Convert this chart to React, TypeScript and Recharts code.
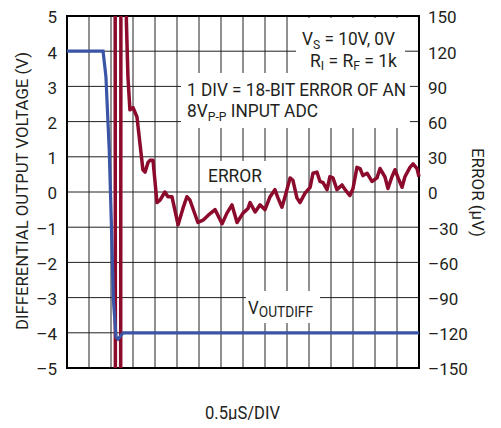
import React from 'react';
import { LineChart, Line, XAxis, YAxis, CartesianGrid, ReferenceArea } from 'recharts';

// ---- data ----
const timeTicks = [0, 1, 2, 3, 4, 5, 6, 7, 8, 9, 10, 11, 12, 13, 14, 15, 16];
const voltTicks = [-5, -4, -3, -2, -1, 0, 1, 2, 3, 4, 5];
const errorTicks = [-150, -120, -90, -60, -30, 0, 30, 60, 90, 120, 150];

// VOUTDIFF (V) vs time (divisions)
const voutTime = [0, 1.64, 1.77, 1.92, 2.03, 2.11, 2.23, 2.32, 2.55, 16];
const voutVolts = [4, 4, 3.27, 1.19, -1.17, -3.07, -4.12, -4.18, -4.0, -4.0];

// ERROR (µV) vs time (divisions); off-scale values are clipped
const errTime = [
  2.0, 2.18, 2.21, 2.43, 2.46, 2.65, 2.7, 2.77, 2.86, 3.0, 3.09, 3.18, 3.45, 3.55, 3.68, 3.77, 3.91,
  4.09, 4.23, 4.45, 4.59, 4.77, 5.05, 5.27, 5.45, 5.59, 5.95, 6.18, 6.41, 6.73, 7.05, 7.27, 7.5,
  7.73, 8.0, 8.23, 8.32, 8.55, 8.77, 9.0, 9.23, 9.45, 9.59, 9.77, 9.91, 10.14, 10.27, 10.45, 10.59,
  10.82, 11.05, 11.18, 11.36, 11.5, 11.64, 11.82, 11.95, 12.09, 12.27, 12.5, 12.64, 12.86, 13.0,
  13.18, 13.32, 13.45, 13.64, 13.86, 14.09, 14.23, 14.45, 14.59, 14.77, 14.91, 15.05, 15.23, 15.36,
  15.59, 15.73, 15.91, 16.0,
];
const errMicroV = [
  500, 500, -500, -500, 500, 500, 145, 98, 70, 72, 68, 64, 19, 17, 25, 27, 27,
  -9, -7, 0, -4, -4, -28, -14, -4, -7, -26, -24, -20, -15, -27, -18, -11,
  -26, -18, -14, -9, -17, -11, -15, -4, 2, -5, -13, -4, 12, 10, -5, -9,
  -1, 4, 16, 17, 9, 8, 2, 13, 12, 2, 6, 2, -3, 3,
  21, 20, 14, 16, 9, 12, 20, 13, 3, 13, 19, 12, 4, 13,
  21, 24, 20, 13,
];

const voutData = voutTime.map((t, i) => ({ t, v: voutVolts[i] }));
const errData = errTime.map((t, i) => ({ t, e: errMicroV[i] }));

const fmt = (n: number) => (n < 0 ? '\u2013' + Math.abs(n) : String(n));

const TXT = '#231f20';
const FONT = "'Liberation Sans Narrow', Roboto, sans-serif";
const TICKFONT = 'Roboto, sans-serif';

const LeftTick = (props: any) => {
  const { x, y, payload } = props;
  return (
    <text x={x} y={y} dy="0.44em" textAnchor="end" fontSize={17} fontFamily={TICKFONT} fill={TXT}>
      {fmt(payload.value)}
    </text>
  );
};
const RightTick = (props: any) => {
  const { x, y, payload } = props;
  return (
    <text x={x} y={y} dy="0.44em" textAnchor="start" fontSize={17} fontFamily={TICKFONT} fill={TXT}>
      {fmt(payload.value)}
    </text>
  );
};

// page coords -> svg coords (body margin 8)
const P = (v: number) => v - 8;

const T = ({ x, y, s = 18.5, len, children, anchor = 'start', rot, adj = 'spacingAndGlyphs' }: any) => (
  <text
    x={P(x)}
    y={P(y)}
    fontSize={s}
    fontFamily={FONT}
    fill={TXT}
    textAnchor={anchor}
    textLength={len}
    lengthAdjust={len ? adj : undefined}
    transform={rot ? `rotate(${rot} ${P(x)} ${P(y)})` : undefined}
  >
    {children}
  </text>
);

const Sub = ({ children, s = 13, d = 3.5 }: any) => (
  <tspan fontSize={s} dy={d}>
    {children}
  </tspan>
);
const Up = ({ children, d = 3.5 }: any) => <tspan dy={-d}>{children}</tspan>;

const Box = ({ x1, y1, x2, y2 }: any) => (
  <rect x={P(x1)} y={P(y1)} width={x2 - x1} height={y2 - y1} fill="#fff" />
);

export default function App() {
  const W = 485;
  const H = 412;
  return (
    <div style={{ position: 'relative', width: W, height: H }}>
      <LineChart width={W} height={H} margin={{ top: 8, right: 0, bottom: 52, left: 0 }}>
        <CartesianGrid yAxisId="v" stroke="#222" strokeWidth={1} />
        <XAxis type="number" dataKey="t" domain={[0, 16]} ticks={timeTicks} hide />
        <YAxis
          yAxisId="v"
          domain={[-5, 5]}
          ticks={voltTicks}
          width={59}
          axisLine={false}
          tickLine={false}
          tickSize={0}
          tickMargin={10}
          tick={<LeftTick />}
          interval={0}
        />
        <YAxis
          yAxisId="e"
          orientation="right"
          domain={[-150, 150]}
          ticks={errorTicks}
          allowDataOverflow
          width={74}
          axisLine={false}
          tickLine={false}
          tickSize={0}
          tickMargin={9}
          tick={<RightTick />}
          interval={0}
        />
        <Line
          data={errData}
          dataKey="e"
          yAxisId="e"
          type="linear"
          stroke="#8c0a2c"
          strokeWidth={3.5}
          dot={false}
          isAnimationActive={false}
          strokeLinejoin="round"
        />
        <Line
          data={voutData}
          dataKey="v"
          yAxisId="v"
          type="linear"
          stroke="#3b55a6"
          strokeWidth={3.2}
          dot={false}
          isAnimationActive={false}
        />
        <ReferenceArea x1={0} x2={16} y1={-5} y2={5} yAxisId="v" fill="none" stroke="#000" strokeWidth={2} fillOpacity={0} />
      </LineChart>
      <svg
        width={W}
        height={H}
        style={{ position: 'absolute', left: 0, top: 0, pointerEvents: 'none', overflow: 'visible' }}
      >
        <Box x1={296} y1={18} x2={405} y2={74} />
        <Box x1={181} y1={73} x2={410} y2={128} />
        <Box x1={203} y1={161} x2={268} y2={188} />
        <Box x1={246} y1={291} x2={320} y2={323} />

        <T x={302} y={45} len={93}>
          V<Sub>S</Sub>
          <Up> = 10V, 0V</Up>
        </T>

        <T x={310} y={66.5} len={87}>
          R<Sub>I</Sub>
          <Up> = R</Up>
          <Sub>F</Sub>
          <Up> = 1k</Up>
        </T>

        <T x={187} y={96} len={219}>1 DIV = 18-BIT ERROR OF AN</T>
        <T x={187} y={117} len={131}>
          8V<Sub>P-P</Sub>
          <Up> INPUT ADC</Up>
        </T>

        <T x={208} y={182} len={54}>ERROR</T>

        <T x={248} y={313.5} len={65}>
          V<Sub s={15} d={3.5}>OUTDIFF</Sub>
        </T>

        <T x={28} y={191} s={17} len={278} anchor="middle" rot={-90}>
          DIFFERENTIAL OUTPUT VOLTAGE (V)
        </T>
        <T x={472} y={192.5} s={17} len={89} anchor="middle" rot={90}>
          ERROR (µV)
        </T>
        <T x={242.5} y={419} s={17.5} len={75} anchor="middle">
          0.5µS/DIV
        </T>
      </svg>
    </div>
  );
}
